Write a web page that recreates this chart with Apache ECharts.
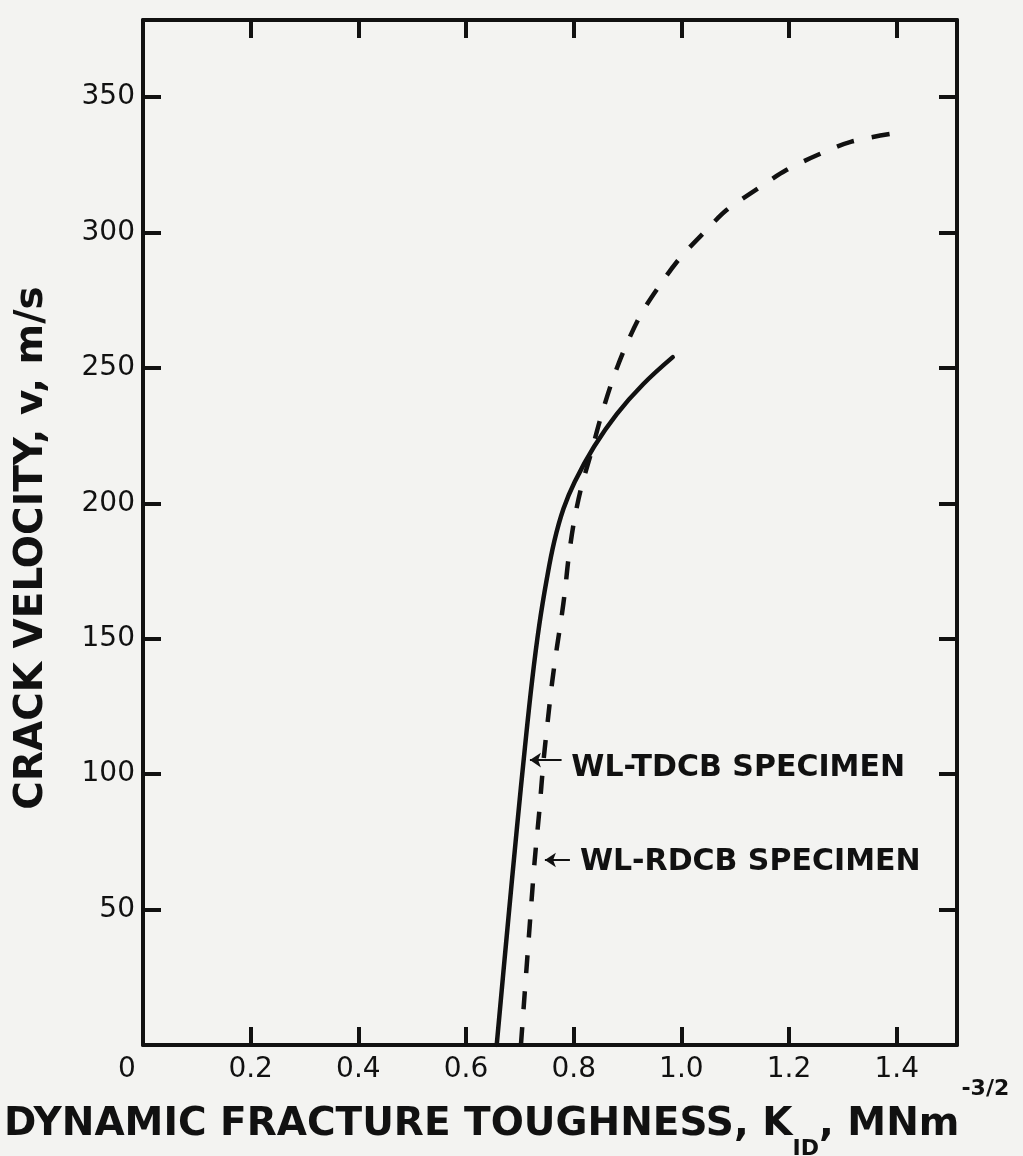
<!DOCTYPE html>
<html>
<head>
<meta charset="utf-8">
<script src="https://cdn.jsdelivr.net/npm/echarts@6/dist/echarts.min.js"></script>
<style>
html,body{margin:0;padding:0;background:#f3f3f1;}
#c{width:1023px;height:1156px;}
</style>
</head>
<body>
<div id="c"></div>
<script>
// ---- data ----
const xTickLabels = ['0', '0.2', '0.4', '0.6', '0.8', '1.0', '1.2', '1.4'];
const yTickLabels = ['0', '50', '100', '150', '200', '250', '300', '350'];

// WL-TDCB specimen (solid): K_ID (MN m^-3/2) vs crack velocity (m/s)
const tdcbK = [0.657, 0.6755, 0.6945, 0.7095, 0.723, 0.736, 0.750, 0.764, 0.781, 0.802, 0.838, 0.880, 0.929, 0.984];
const tdcbV = [0, 40, 80, 110, 135, 155, 172, 186, 198, 208, 221, 233, 244, 254];

// WL-RDCB specimen (dashed)
const rdcbK = [0.702, 0.716, 0.7275, 0.736, 0.744, 0.752, 0.760, 0.769, 0.7775, 0.784, 0.790, 0.800, 0.813, 0.833, 0.849, 0.870, 0.895, 0.926, 0.960, 0.997, 1.0405, 1.084, 1.143, 1.195, 1.257, 1.316, 1.403];
const rdcbV = [0, 38, 68, 86, 105, 120, 134, 147, 158.2, 168, 179, 192.6, 205, 219.1, 230.8, 244.3, 257.3, 270.2, 280.6, 290.5, 299.7, 308.3, 316.4, 323.1, 329, 333.6, 336.9];

// annotations (data coordinates)
const noteTexts = ['WL-TDCB SPECIMEN', 'WL-RDCB SPECIMEN'];
const noteK = [0.7957, 0.8115];
const noteV = [102.3, 67.6];
const arrowFromK = [0.7775, 0.793];
const arrowToK = [0.7187, 0.7465];
const arrowV = [105.2, 68.3];

const xAxisTitle = ['DYNAMIC FRACTURE TOUGHNESS, K', 'ID', ', MNm', '-3/2'];
const yAxisTitle = 'CRACK VELOCITY, v, m/s';

// ---- chart ----
const INK = '#111111';
const FONT = '"DejaVu Sans", sans-serif';
const pairs = (xs, ys) => xs.map((x, i) => [x, ys[i]]);

const X_MAX = 1.512, Y_MAX = 378.5;

const baseAxis = {
  type: 'value',
  splitLine: { show: false },
  axisLine: { show: true, onZero: false, lineStyle: { color: INK, width: 4 } },
  axisTick: { show: true, inside: true, length: 18, lineStyle: { color: INK, width: 4 } }
};

const chart = echarts.init(document.getElementById('c'), null, { renderer: 'canvas' });
chart.setOption({
  animation: false,
  backgroundColor: '#f3f3f1',
  grid: { left: 143, right: 66, top: 20, bottom: 111, containLabel: false, outerBoundsMode: 'none' },
  title: {
    text: '{a|' + xAxisTitle[0] + '}{sub|' + xAxisTitle[1] + '}{a|' + xAxisTitle[2] + '}{sup|' + xAxisTitle[3] + '}',
    left: 4, top: 1105, padding: 0,
    textStyle: {
      rich: {
        a: { fontFamily: FONT, fontWeight: 'bold', fontSize: 39, lineHeight: 39, color: INK, verticalAlign: 'middle' },
        sub: { fontFamily: FONT, fontWeight: 'bold', fontSize: 22, lineHeight: 22, color: INK, padding: [50, 0, 0, 0], verticalAlign: 'middle' },
        sup: { fontFamily: FONT, fontWeight: 'bold', fontSize: 22, lineHeight: 22, color: INK, padding: [0, 0, 70, 2], verticalAlign: 'middle' }
      }
    }
  },
  graphic: [{
    type: 'text',
    x: 32, y: 548,
    rotation: Math.PI / 2,
    style: {
      text: yAxisTitle,
      fill: INK,
      font: 'bold 39px ' + FONT,
      align: 'center',
      verticalAlign: 'middle'
    }
  }],
  xAxis: [
    Object.assign({}, baseAxis, {
      position: 'bottom', min: 0, max: X_MAX, interval: 0.2,
      axisLabel: {
        show: true, margin: 11, showMaxLabel: false,
        fontFamily: FONT, fontSize: 28, color: INK,
        formatter: v => {
          const i = Math.round(v / 0.2);
          return i === 0 ? '{z|' + xTickLabels[0] + '}' : xTickLabels[i];
        },
        rich: { z: { fontFamily: FONT, fontSize: 28, color: INK, padding: [0, 32, 0, 0] } }
      }
    }),
    Object.assign({}, baseAxis, {
      position: 'top', min: 0, max: X_MAX, interval: 0.2,
      axisLabel: { show: false }
    })
  ],
  yAxis: [
    Object.assign({}, baseAxis, {
      position: 'left', min: 0, max: Y_MAX, interval: 50,
      axisLabel: {
        show: true, margin: 8, showMinLabel: false, showMaxLabel: false,
        fontFamily: FONT, fontSize: 28, color: INK,
        formatter: v => yTickLabels[Math.round(v / 50)]
      }
    }),
    Object.assign({}, baseAxis, {
      position: 'right', min: 0, max: Y_MAX, interval: 50,
      axisLabel: { show: false }
    })
  ],
  series: [
    {
      name: 'WL-TDCB', type: 'line', xAxisIndex: 0, yAxisIndex: 0,
      data: pairs(tdcbK, tdcbV), showSymbol: false, smooth: 0.4,
      lineStyle: { color: INK, width: 4.5, cap: 'round' },
      silent: true
    },
    {
      name: 'WL-RDCB', type: 'line', xAxisIndex: 0, yAxisIndex: 0,
      data: pairs(rdcbK, rdcbV), showSymbol: false, smooth: 0.3,
      lineStyle: { color: INK, width: 4.5, type: [18, 18], cap: 'butt' },
      silent: true
    },
    {
      name: 'notes', type: 'scatter', xAxisIndex: 0, yAxisIndex: 0,
      data: noteK.map((k, i) => ({ value: [k, noteV[i]], name: noteTexts[i] })),
      symbolSize: 0,
      silent: true,
      itemStyle: { opacity: 1, color: INK },
      label: {
        show: true, position: 'right', distance: 0, opacity: 1,
        formatter: p => p.name,
        fontFamily: FONT, fontWeight: 'bold', fontSize: 30, color: INK
      },
      markLine: {
        silent: true,
        symbol: ['none', 'arrow'],
        symbolSize: 11,
        label: { show: false },
        itemStyle: { color: INK, opacity: 1 },
        lineStyle: { color: INK, width: 2, type: 'solid', opacity: 1 },
        data: arrowV.map((v, i) => [{ coord: [arrowFromK[i], v] }, { coord: [arrowToK[i], v] }])
      }
    }
  ]
});
</script>
</body>
</html>
